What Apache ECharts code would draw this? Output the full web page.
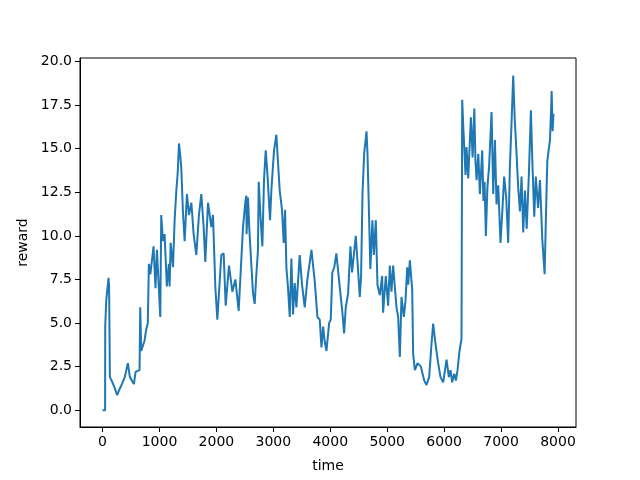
<!DOCTYPE html>
<html>
<head>
<meta charset="utf-8">
<script src="https://cdn.jsdelivr.net/npm/echarts@6/dist/echarts.min.js"></script>
<style>
  html, body { margin: 0; padding: 0; background: #fff; }
  #chart { width: 640px; height: 480px; }
</style>
</head>
<body>
<div id="chart"></div>
<script>
// values
var time = [0, 45, 47, 65, 105, 115, 129, 160, 211, 258, 290, 340, 390, 445, 480, 551, 580, 650, 662, 680,
  738, 765, 795, 814, 840, 896, 930, 955, 1014, 1031, 1060, 1090, 1129, 1165, 1178, 1196, 1237, 1266, 1296, 1320,
  1342, 1365, 1383, 1412, 1442, 1482, 1518, 1560, 1600, 1647, 1693, 1735, 1776, 1805, 1852, 1911, 1940, 1981, 2016, 2086,
  2127, 2163, 2221, 2280, 2333, 2391, 2426, 2467, 2510, 2526, 2530, 2555, 2578, 2602, 2643, 2672, 2700, 2730, 2743, 2778,
  2807, 2836, 2866, 2895, 2942, 2965, 3012, 3053, 3082, 3112, 3152, 3182, 3206, 3229, 3258, 3288, 3317, 3346, 3375, 3405,
  3463, 3504, 3551, 3598, 3669, 3727, 3774, 3815, 3845, 3874, 3900, 3933, 3980, 4008, 4036, 4070, 4107, 4147, 4178, 4213,
  4243, 4272, 4313, 4354, 4383, 4448, 4477, 4518, 4541, 4566, 4595, 4636, 4654, 4683, 4704, 4740, 4765, 4800, 4829, 4870,
  4911, 4928, 4975, 5016, 5046, 5075, 5104, 5133, 5163, 5192, 5222, 5251, 5292, 5322, 5351, 5369, 5398, 5439, 5456, 5486,
  5533, 5591, 5650, 5690, 5737, 5778, 5807, 5848, 5895, 5936, 5983, 6042, 6083, 6112, 6141, 6176, 6206, 6235, 6270, 6305,
  6317, 6340, 6375, 6393, 6423, 6470, 6500, 6530, 6550, 6570, 6600, 6628, 6669, 6690, 6710, 6733, 6760, 6790, 6833, 6848,
  6862, 6892, 6920, 6950, 6990, 7020, 7054, 7090, 7125, 7154, 7184, 7213, 7240, 7272, 7300, 7331, 7360, 7389, 7420, 7450,
  7489, 7524, 7550, 7583, 7610, 7650, 7683, 7724, 7765, 7785, 7812, 7859, 7880, 7888, 7905, 7920];

var reward = [0, 0, 4.8, 6.3, 7.6, 7.1, 1.9, 1.7, 1.3, 0.86, 1.15, 1.5, 1.9, 2.7, 1.9, 1.5, 2.2, 2.3, 5.9, 3.4,
  4.0, 4.6, 5.0, 8.4, 7.8, 9.4, 7.0, 9.2, 5.35, 11.2, 9.7, 10.1, 7.1, 8.4, 7.1, 9.6, 8.2, 10.9, 12.6, 13.6,
  15.3, 14.6, 13.9, 11.4, 9.7, 12.4, 11.2, 11.9, 10.1, 8.9, 11.2, 12.4, 10.5, 8.5, 11.9, 10.5, 11.2, 7.1, 5.2, 8.9,
  9.0, 6.0, 8.3, 6.8, 7.5, 5.7, 7.9, 10.5, 12.0, 12.3, 10.1, 12.2, 10.4, 9.0, 6.7, 6.1, 7.7, 9.2, 13.1, 10.9,
  9.4, 13.2, 14.9, 13.6, 10.9, 12.6, 14.9, 15.8, 14.2, 12.6, 11.5, 9.6, 11.5, 8.2, 7.0, 5.35, 8.7, 5.5, 7.3, 5.9,
  8.9, 7.2, 5.9, 7.5, 9.2, 7.4, 5.35, 5.2, 3.6, 4.8, 4.0, 3.4, 5.0, 5.2, 7.9, 8.2, 9.0, 7.7, 6.7, 5.6,
  4.4, 5.9, 6.7, 9.4, 7.9, 10.0, 8.6, 6.5, 7.7, 12.4, 14.7, 16.0, 14.7, 10.9, 8.1, 10.9, 8.9, 10.9, 7.2, 6.6,
  7.7, 5.6, 7.7, 6.0, 8.3, 6.8, 8.3, 8.4, 5.9, 5.35, 3.05, 6.5, 5.35, 6.3, 8.2, 7.2, 8.6, 6.9, 3.2, 2.3,
  2.7, 2.5, 1.7, 1.45, 1.9, 3.8, 4.97, 3.8, 2.7, 1.9, 1.6, 2.9, 1.9, 2.3, 1.6, 2.1, 1.7, 2.3, 3.4, 4.1,
  17.8, 16.0, 13.5, 15.1, 13.3, 16.8, 14.5, 17.3, 14.3, 13.2, 14.7, 12.4, 14.9, 12.0, 13.1, 10.0, 12.8, 14.0, 17.1, 14.7,
  12.4, 15.5, 11.8, 12.9, 9.6, 11.3, 13.4, 12.2, 9.6, 13.9, 16.5, 19.2, 16.7, 14.7, 12.8, 11.4, 13.4, 10.2, 12.6, 10.4,
  13.6, 17.2, 14.2, 11.1, 13.4, 11.6, 13.2, 9.8, 7.8, 10.7, 14.3, 15.5, 17.4, 18.3, 16.0, 17.0];

var xTicks = [0, 1000, 2000, 3000, 4000, 5000, 6000, 7000, 8000];
var yTicks = [0, 2.5, 5, 7.5, 10, 12.5, 15, 17.5, 20];

var points = [];
for (var i = 0; i < time.length; i++) {
  points.push([time[i], reward[i]]);
}

var myChart = echarts.init(document.getElementById("chart"));
var labelFont = { color: "#000", fontSize: 14, fontFamily: "DejaVu Sans" };

myChart.setOption({
  animation: false,
  grid: {
    left: 80, right: 64, top: 58, bottom: 53,
    show: true, borderColor: "#000", borderWidth: 1, backgroundColor: "#fff"
  },
  xAxis: {
    type: "value",
    min: -396,
    max: 8316,
    name: "time",
    nameLocation: "middle",
    nameGap: 32,
    nameTextStyle: labelFont,
    splitLine: { show: false },
    axisLine: { show: true, onZero: false, lineStyle: { color: "#000", width: 1 } },
    axisTick: { show: true, length: 5, customValues: xTicks, lineStyle: { color: "#000" } },
    axisLabel: Object.assign({
      margin: 8,
      customValues: xTicks,
      formatter: function (v) { return String(v); }
    }, labelFont)
  },
  yAxis: {
    type: "value",
    min: -0.96,
    max: 20.2,
    name: "reward",
    nameLocation: "middle",
    nameGap: 47,
    nameTextStyle: labelFont,
    splitLine: { show: false },
    axisLine: { show: true, onZero: false, lineStyle: { color: "#000", width: 1 } },
    axisTick: { show: true, length: 5, customValues: yTicks, lineStyle: { color: "#000" } },
    axisLabel: Object.assign({
      margin: 8,
      customValues: yTicks,
      formatter: function (v) { return v.toFixed(1); }
    }, labelFont)
  },
  series: [
    {
      name: "reward",
      type: "line",
      data: points,
      showSymbol: false,
      lineStyle: { color: "#1f77b4", width: 2 },
      itemStyle: { color: "#1f77b4" }
    }
  ]
});
</script>
</body>
</html>
